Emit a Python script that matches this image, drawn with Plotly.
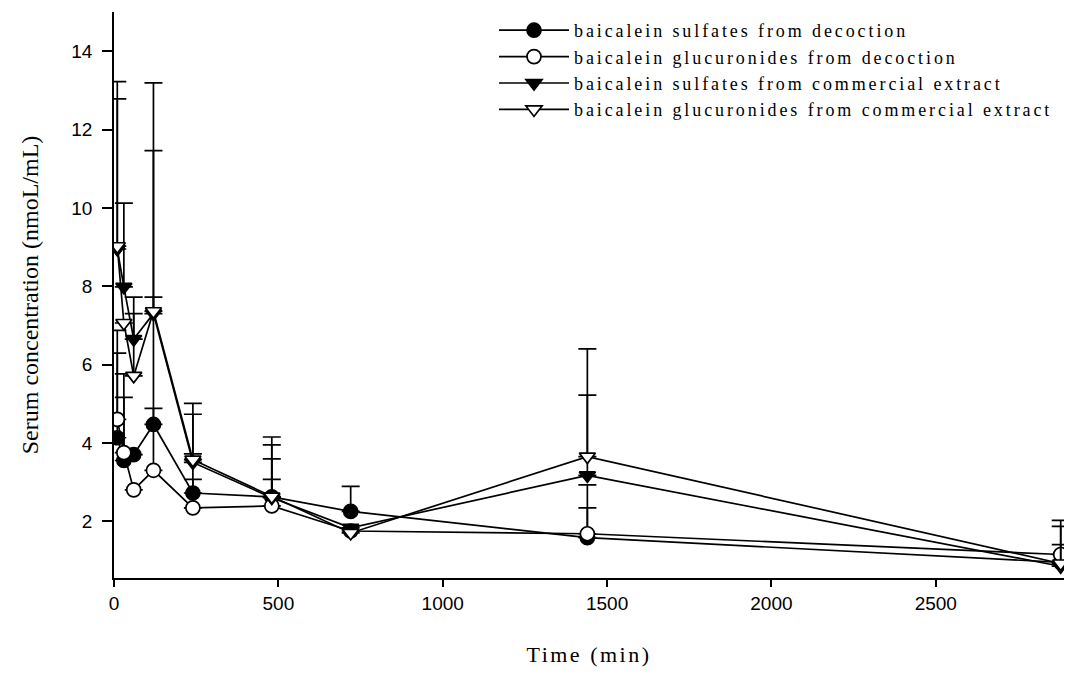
import plotly.graph_objects as go

time_min = [10, 30, 60, 120, 240, 480, 720, 1440, 2880]

sulf_dec = [4.13, 3.55, 3.70, 4.47, 2.72, 2.62, 2.25, 1.58, 0.95]
sulf_dec_up = [6.29, 5.16, None, 7.72, 3.72, 3.59, 2.89, 2.93, None]

gluc_dec = [4.60, 3.75, 2.80, 3.30, 2.34, 2.39, 1.75, 1.68, 1.15]
gluc_dec_up = [6.87, 5.76, None, 4.88, 3.07, 3.07, None, 2.34, 1.40]

sulf_com = [8.95, 7.98, 6.65, 7.30, 3.50, 2.60, 1.83, 3.17, 0.85]
sulf_com_up = [12.78, 10.12, 7.72, 11.46, 4.73, 3.95, None, 5.22, 1.87]

gluc_com = [9.02, 7.06, 5.71, 7.36, 3.57, 2.63, 1.70, 3.65, 0.92]
gluc_com_up = [13.22, None, 7.30, 13.19, 5.01, 4.15, None, 6.40, 2.02]

names = [
    "baicalein sulfates from decoction",
    "baicalein glucuronides from decoction",
    "baicalein sulfates from commercial extract",
    "baicalein glucuronides from commercial extract",
]
series = [
    (sulf_dec, sulf_dec_up, "circle", "black"),
    (gluc_dec, gluc_dec_up, "circle", "white"),
    (sulf_com, sulf_com_up, "triangle-down", "black"),
    (gluc_com, gluc_com_up, "triangle-down", "white"),
]

fig = go.Figure()
for name, (vals, ups, sym, fill) in zip(names, series):
    plus = [(u - v) if u is not None else None for v, u in zip(vals, ups)]
    minus = [0 if u is not None else None for u in ups]
    fig.add_trace(go.Scatter(
        x=time_min, y=vals, name=name, mode="lines+markers",
        line=dict(color="black", width=1.7),
        marker=dict(symbol=sym, size=14, color=fill,
                    line=dict(color="black", width=1.7)),
        error_y=dict(type="data", symmetric=False, array=plus,
                     arrayminus=minus, color="black", thickness=1.7, width=9),
    ))

serif = "Liberation Serif, Times New Roman, serif"
sans = "Liberation Sans, Arial, sans-serif"

fig.update_layout(
    width=1092, height=674,
    margin=dict(l=114, r=28, t=12, b=96),
    paper_bgcolor="white", plot_bgcolor="white",
    showlegend=True,
    legend=dict(x=0.4, y=1.0, xanchor="left", yanchor="top",
                font=dict(family=serif, size=18, color="black"),
                bgcolor="rgba(0,0,0,0)", tracegroupgap=0, itemwidth=70),
    xaxis=dict(range=[0, 2890], tickvals=[0, 500, 1000, 1500, 2000, 2500],
               showline=True, linecolor="black", linewidth=1.7,
               ticks="outside", ticklen=7, tickcolor="black", tickwidth=1.5,
               showgrid=False, zeroline=False,
               tickfont=dict(family=sans, size=19, color="black"),
               title=dict(text="Time (min)", standoff=34,
                          font=dict(family=serif, size=22, color="black"))),
    yaxis=dict(range=[0.55, 15], tickvals=[2, 4, 6, 8, 10, 12, 14],
               showline=True, linecolor="black", linewidth=1.7,
               ticks="outside", ticklen=10, tickcolor="black", tickwidth=1.5,
               ticklabelstandoff=6,
               showgrid=False, zeroline=False,
               tickfont=dict(family=sans, size=19, color="black"),
               title=dict(text="Serum concentration (nmoL/mL)", standoff=26,
                          font=dict(family=serif, size=24, color="black"))),
)

post = """
var s = document.createElement('style');
s.textContent = '.legendtext{letter-spacing:2.9px;} .xtitle{letter-spacing:2.5px;} '
  + '.legend .scrollbox{clip-path:none !important;} .legend{clip-path:none !important;}';
document.head.appendChild(s);
"""

fig.write_html("out.html", post_script=post)
